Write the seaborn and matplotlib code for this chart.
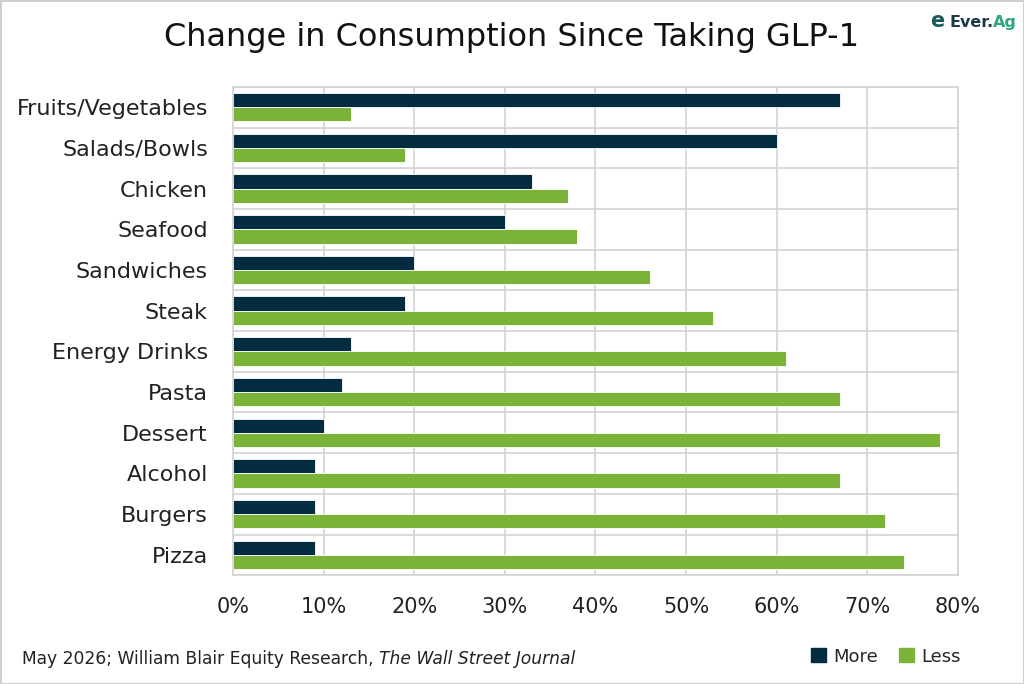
import matplotlib
matplotlib.use("Agg")
import matplotlib.pyplot as plt
import seaborn as sns
import pandas as pd
import numpy as np
from matplotlib.ticker import PercentFormatter, FixedLocator
from matplotlib.patches import Patch

categories = ["Fruits/Vegetables", "Salads/Bowls", "Chicken", "Seafood", "Sandwiches",
              "Steak", "Energy Drinks", "Pasta", "Dessert", "Alcohol", "Burgers", "Pizza"]
more = [67, 60, 33, 30, 20, 19, 13, 12, 10, 9, 9, 9]
less = [13, 19, 37, 38, 46, 53, 61, 67, 78, 67, 72, 74]
series = ["More", "Less"]
xticks = [0, 10, 20, 30, 40, 50, 60, 70, 80]

df = pd.DataFrame({
    "Category": categories * 2,
    "Value": more + less,
    "Series": [series[0]] * len(categories) + [series[1]] * len(categories),
})

sns.set_theme(style="white")
plt.rcParams["font.family"] = ["DejaVu Sans"]

navy = "#032C41"
green = "#7AB338"
grid_c = "#D3D3D3"

fig = plt.figure(figsize=(10.24, 6.84), dpi=100)
fig.patch.set_facecolor("white")
fig.patch.set_edgecolor("#CFCFCF")
fig.patch.set_linewidth(2)

ax = fig.add_axes([0.2275, 0.159, 0.708, 0.714])
sns.barplot(data=df, y="Category", x="Value", hue="Series", order=categories,
            hue_order=series, palette=[navy, green], saturation=1, width=0.7, ax=ax,
            edgecolor="white", linewidth=0.6, legend=False, orient="h")

ax.set_xlim(0, 80)
ax.set_ylim(len(categories) - 0.5, -0.5)
ax.xaxis.set_major_locator(FixedLocator(xticks))
ax.xaxis.set_major_formatter(PercentFormatter(decimals=0))
ax.yaxis.set_minor_locator(FixedLocator(np.arange(-0.5, len(categories), 1.0)))
ax.set_axisbelow(True)
ax.grid(axis="x", which="major", color=grid_c, linewidth=1.2)
ax.grid(axis="y", which="minor", color=grid_c, linewidth=1.2)
ax.grid(axis="y", which="major", visible=False)
for s in ax.spines.values():
    s.set_color(grid_c)
    s.set_linewidth(1.2)
ax.tick_params(axis="x", which="both", length=0, pad=16, labelsize=15, labelcolor="#222222")
ax.tick_params(axis="y", which="both", length=0, pad=18, labelsize=16, labelcolor="#222222")
ax.set_xlabel("")
ax.set_ylabel("")

fig.text(0.5, 0.945, "Change in Consumption Since Taking GLP-1", ha="center", va="center",
         fontsize=23, color="#111111")

t = fig.text(0.021, 0.037, "May 2026; William Blair Equity Research, ", ha="left", va="center",
             fontsize=12.3, color="#222222")
fig.canvas.draw()
bb = t.get_window_extent()
x_end = bb.x1 / fig.bbox.width
fig.text(x_end, 0.037, "The Wall Street Journal", ha="left", va="center",
         fontsize=12.3, color="#222222", style="italic")

handles = [Patch(facecolor=navy, edgecolor=navy), Patch(facecolor=green, edgecolor=green)]
fig.legend(handles, series, loc="center", bbox_to_anchor=(0.865, 0.04), ncol=2, frameon=False,
           fontsize=13, handlelength=0.8, handleheight=0.8, handletextpad=0.4, columnspacing=1.2)

fig.text(0.970, 0.967, "Ever.", ha="right", va="center", fontsize=11.5, fontweight="bold",
         color="#1A3A4A")
fig.text(0.970, 0.967, "Ag", ha="left", va="center", fontsize=11.5, fontweight="bold",
         color="#2BA77A")
fig.text(0.922, 0.969, "e", ha="right", va="center", fontsize=15, fontweight="bold",
         color="#1A5A5A")

fig.savefig("out.png", dpi=100, facecolor=fig.get_facecolor(), edgecolor=fig.get_edgecolor())
